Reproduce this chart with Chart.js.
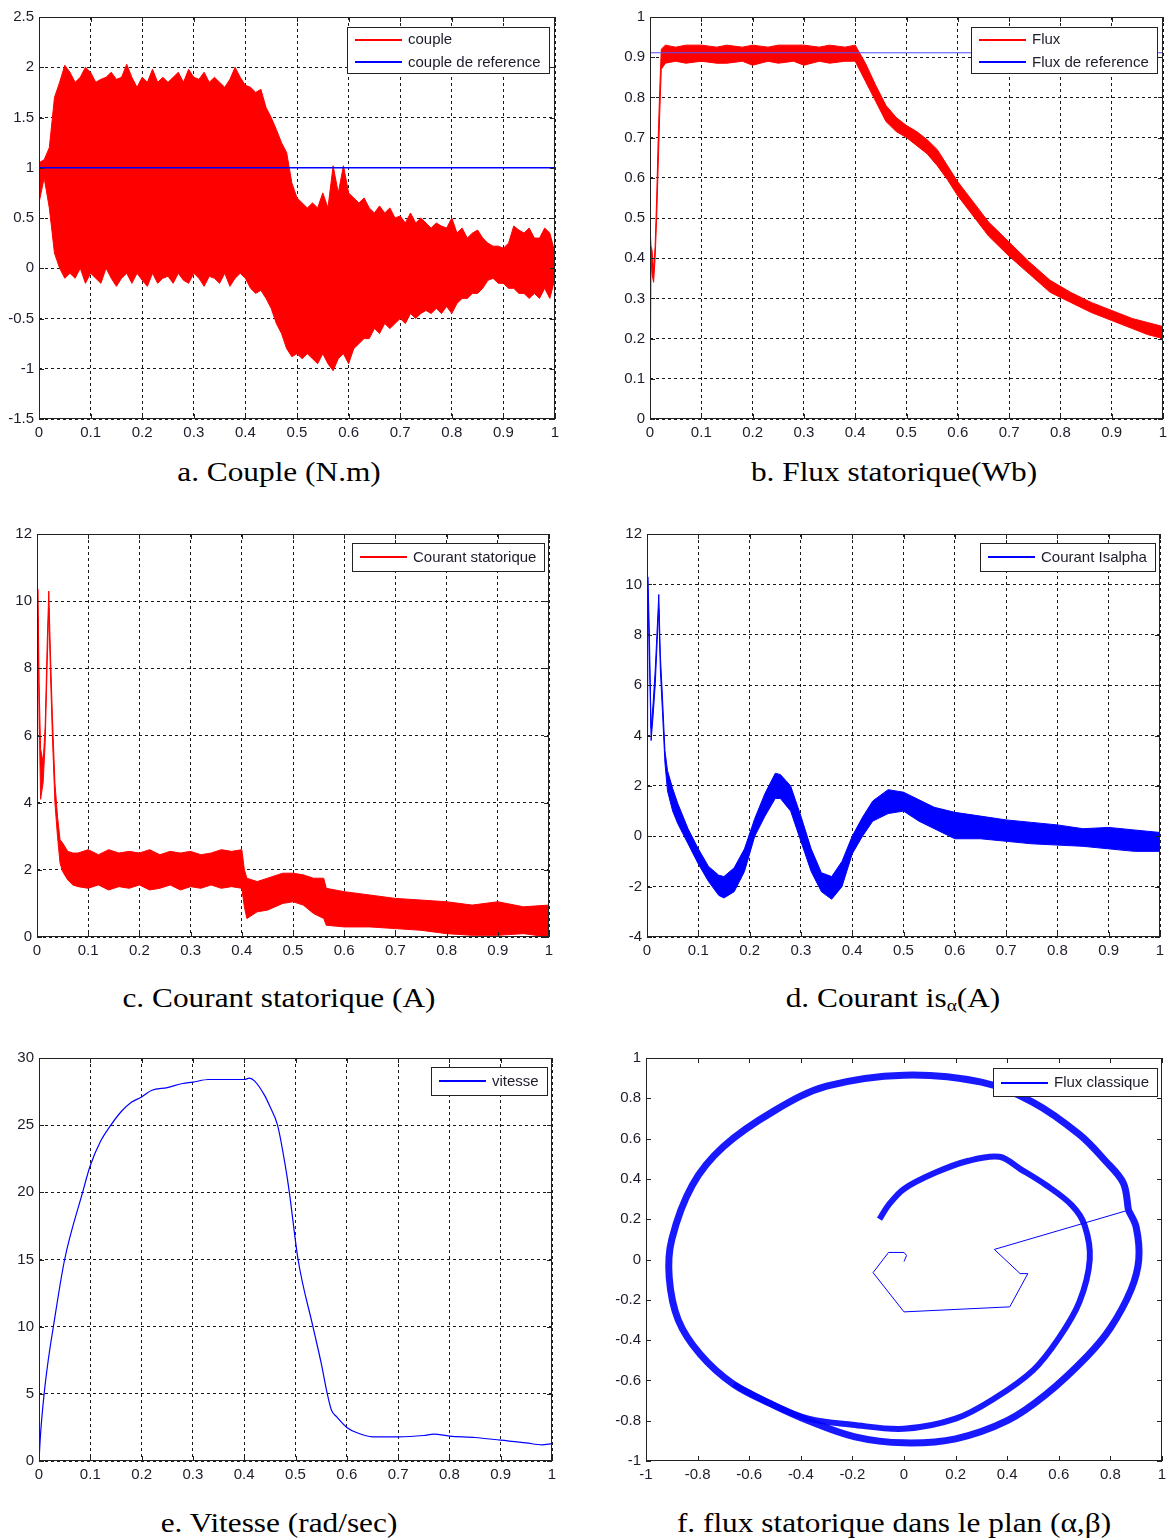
<!DOCTYPE html>
<html>
<head>
<meta charset="utf-8">
<script src="https://cdn.jsdelivr.net/npm/chart.js@4.4.1/dist/chart.umd.min.js"></script>
<style>
    body { margin: 0; background: #fff; width: 1167px; height: 1540px; position: relative; overflow: hidden; }
    canvas { position: absolute; }
    .caption {
        position: absolute; width: 700px; text-align: center; white-space: nowrap;
        font-family: "Liberation Serif", "Times New Roman", serif; font-size: 27px; line-height: 1; color: #000;
        transform: scaleX(1.16); transform-origin: center;
    }
    .caption sub { font-size: 0.62em; vertical-align: -0.25em; }
</style>
</head>
<body>
<div class="caption" style="left:-71px; top:459px;">a. Couple (N.m)</div>
<div class="caption" style="left:544px; top:459px;">b. Flux statorique(Wb)</div>
<div class="caption" style="left:-71px; top:985px;">c. Courant statorique (A)</div>
<div class="caption" style="left:543px; top:985px;">d. Courant is<sub>α</sub>(A)</div>
<div class="caption" style="left:-71px; top:1510px;">e. Vitesse (rad/sec)</div>
<div class="caption" style="left:544px; top:1510px;">f. flux statorique dans le plan (α,β)</div>

<script>
// ---- a. couple : enveloppe haute / basse du couple (pas de 0.01 s), couple de reference
const tA = Array.from({ length: 101 }, (_, i) => i / 100);
const coupleHaut = [1.05, 1.08, 1.2, 1.7, 1.85, 2.02, 1.95, 1.85, 1.9, 2.0,
    1.95, 1.85, 1.88, 1.9, 1.95, 1.88, 1.9, 2.03, 1.9, 1.8,
    1.9, 1.85, 1.98, 1.85, 1.9, 1.85, 1.9, 1.95, 1.85, 1.98,
    1.9, 1.88, 1.95, 1.85, 1.9, 1.85, 1.8, 1.88, 2.0, 1.9,
    1.82, 1.8, 1.75, 1.78, 1.6, 1.5, 1.38, 1.25, 1.15, 0.85,
    0.7, 0.65, 0.6, 0.65, 0.6, 0.75, 0.6, 1.02, 0.75, 1.02,
    0.75, 0.7, 0.65, 0.7, 0.6, 0.55, 0.62, 0.55, 0.6, 0.5,
    0.52, 0.45, 0.55, 0.45, 0.5, 0.45, 0.4, 0.45, 0.42, 0.4,
    0.5, 0.35, 0.4, 0.3, 0.35, 0.38, 0.3, 0.25, 0.22, 0.22,
    0.2, 0.25, 0.42, 0.38, 0.35, 0.4, 0.3, 0.3, 0.4, 0.35,
    0.15];
const coupleBas = [0.65, 0.9, 0.6, 0.15, 0.0, -0.1, -0.05, -0.1, 0.0, -0.15,
    -0.05, -0.1, -0.15, 0.0, -0.1, -0.18, -0.1, -0.05, -0.15, -0.05,
    -0.12, -0.18, -0.05, -0.15, -0.1, -0.08, -0.15, -0.05, -0.12, -0.15,
    -0.05, -0.1, -0.18, -0.08, -0.1, -0.15, -0.05, -0.18, -0.1, -0.05,
    -0.1, -0.2, -0.25, -0.22, -0.3, -0.4, -0.55, -0.65, -0.8, -0.88,
    -0.85, -0.9, -0.85, -0.9, -0.95, -0.85, -0.95, -1.02, -0.9, -0.85,
    -0.95, -0.8, -0.75, -0.7, -0.7, -0.6, -0.65, -0.55, -0.6, -0.55,
    -0.5, -0.55, -0.45, -0.5, -0.45, -0.42, -0.45, -0.4, -0.45, -0.38,
    -0.45, -0.35, -0.3, -0.3, -0.25, -0.25, -0.2, -0.12, -0.1, -0.15,
    -0.15, -0.2, -0.2, -0.25, -0.25, -0.3, -0.25, -0.3, -0.2, -0.3,
    -0.1];
const coupleRef = 1;

// ---- b. flux statorique
const tB = [0, 0.002, 0.004, 0.007, 0.01, 0.013, 0.016, 0.019, 0.022, 0.03, 0.05, 0.07, 0.1, 0.13, 0.15, 0.18,
    0.2, 0.23, 0.25, 0.28, 0.3, 0.33, 0.35, 0.38, 0.4, 0.42, 0.44, 0.46, 0.48, 0.5, 0.52, 0.54, 0.56, 0.58,
    0.6, 0.63, 0.66, 0.7, 0.74, 0.78, 0.82, 0.86, 0.9, 0.94, 0.97, 1.0];
const fluxHaut = [0.48, 0.43, 0.42, 0.37, 0.43, 0.55, 0.7, 0.82, 0.92, 0.93, 0.925, 0.93, 0.93, 0.925, 0.93, 0.925,
    0.93, 0.925, 0.93, 0.93, 0.93, 0.925, 0.93, 0.925, 0.93, 0.885, 0.83, 0.78, 0.75, 0.73, 0.715, 0.695, 0.67, 0.63,
    0.59, 0.54, 0.49, 0.44, 0.39, 0.345, 0.315, 0.29, 0.27, 0.25, 0.24, 0.23];
const fluxBas = [0, 0.40, 0.36, 0.34, 0.40, 0.5, 0.63, 0.76, 0.87, 0.885, 0.89, 0.885, 0.89, 0.885, 0.885, 0.89,
    0.88, 0.89, 0.885, 0.89, 0.88, 0.89, 0.885, 0.89, 0.89, 0.84, 0.79, 0.74, 0.715, 0.7, 0.68, 0.66, 0.63, 0.595,
    0.555, 0.505, 0.455, 0.405, 0.36, 0.315, 0.29, 0.265, 0.245, 0.225, 0.21, 0.2];
const fluxRef = 0.911;

// ---- c. courant statorique
const tC = [0, 0.002, 0.004, 0.007, 0.012, 0.016, 0.02, 0.023, 0.026, 0.03, 0.035, 0.04, 0.045, 0.05, 0.06, 0.07,
    0.08, 0.1, 0.12, 0.14, 0.16, 0.18, 0.2, 0.22, 0.24, 0.26, 0.28, 0.3, 0.32, 0.34, 0.36, 0.38, 0.4, 0.405,
    0.41, 0.43, 0.45, 0.48, 0.5, 0.52, 0.54, 0.56, 0.565, 0.6, 0.65, 0.7, 0.75, 0.8, 0.85, 0.9, 0.95, 1.0];
const courantHaut = [10.3, 10.35, 7.6, 5.6, 5.2, 6.3, 8.8, 10.3, 8.6, 6.6, 4.6, 3.6, 2.9, 2.8, 2.55, 2.5,
    2.5, 2.6, 2.45, 2.6, 2.5, 2.55, 2.5, 2.6, 2.45, 2.55, 2.5, 2.55, 2.45, 2.5, 2.6, 2.55, 2.6, 2.0,
    1.75, 1.65, 1.75, 1.9, 1.9, 1.85, 1.75, 1.75, 1.45, 1.35, 1.25, 1.15, 1.1, 1.05, 0.95, 1.05, 0.9, 0.95];
const courantBas = [0, 9.5, 6.8, 4.1, 4.6, 5.8, 8.2, 9.8, 8.0, 6.0, 4.0, 3.0, 2.2, 1.95, 1.7, 1.55,
    1.5, 1.45, 1.55, 1.4, 1.5, 1.45, 1.55, 1.4, 1.45, 1.55, 1.4, 1.5, 1.45, 1.55, 1.45, 1.5, 1.45, 0.9,
    0.55, 0.75, 0.8, 1.0, 1.05, 0.95, 0.7, 0.55, 0.35, 0.3, 0.3, 0.25, 0.2, 0.1, 0.05, 0.05, 0.1, 0.0];

// ---- d. courant isalpha
const tD = [0, 0.002, 0.005, 0.008, 0.012, 0.016, 0.02, 0.023, 0.026, 0.03, 0.035, 0.04, 0.05, 0.06, 0.08, 0.1,
    0.12, 0.14, 0.15, 0.17, 0.19, 0.21, 0.23, 0.25, 0.26, 0.28, 0.3, 0.32, 0.34, 0.36, 0.38, 0.4, 0.42, 0.44,
    0.47, 0.5, 0.53, 0.56, 0.6, 0.65, 0.7, 0.75, 0.8, 0.85, 0.9, 0.95, 1.0];
const isalphaHaut = [10.3, 10.3, 7.6, 4.3, 5.3, 6.6, 8.3, 9.6, 7.2, 5.6, 3.4, 2.6, 1.9, 1.3, 0.3, -0.5,
    -1.2, -1.55, -1.6, -1.25, -0.5, 0.7, 1.7, 2.5, 2.45, 2.0, 0.8, -0.5, -1.45, -1.6, -1.0, 0.0, 0.75, 1.4,
    1.85, 1.75, 1.45, 1.15, 0.95, 0.8, 0.65, 0.55, 0.45, 0.3, 0.35, 0.25, 0.15];
const isalphaBas = [-2.7, 9.6, 6.8, 3.8, 4.8, 6.0, 7.8, 9.0, 6.6, 5.0, 2.9, 1.8, 1.0, 0.5, -0.3, -1.1,
    -1.8, -2.35, -2.45, -2.2, -1.4, 0.0, 0.8, 1.5, 1.5, 1.0, -0.2, -1.4, -2.2, -2.5, -2.0, -0.7, 0.0, 0.6,
    0.9, 1.0, 0.6, 0.3, -0.1, -0.1, -0.2, -0.3, -0.35, -0.4, -0.5, -0.6, -0.6];

// ---- e. vitesse
const tE = [0, 0.003, 0.01, 0.018, 0.028, 0.05, 0.085, 0.1, 0.12, 0.14, 0.16, 0.18, 0.2, 0.22, 0.25, 0.28,
    0.3, 0.33, 0.36, 0.4, 0.41, 0.42, 0.44, 0.45, 0.465, 0.48, 0.488, 0.505, 0.534, 0.55, 0.562, 0.57, 0.58,
    0.6, 0.62, 0.65, 0.7, 0.75, 0.77, 0.8, 0.85, 0.9, 0.95, 0.98, 1.0];
const vitesse = [0, 2, 5, 7.5, 10, 15, 20, 22, 23.8, 25, 26, 26.7, 27.1, 27.6, 27.8, 28.1,
    28.2, 28.4, 28.4, 28.4, 28.5, 28.3, 27.2, 26.4, 25, 22, 20, 15, 10, 7.3, 5, 3.8, 3.3,
    2.5, 2.1, 1.8, 1.8, 1.9, 2.0, 1.85, 1.75, 1.55, 1.35, 1.2, 1.3];

// ---- f. flux dans le plan (alpha, beta)
const demarrageAlpha = [0, 0.01, 0.0, -0.06, -0.12, 0.0, 0.41, 0.48, 0.45, 0.35, 0.87];
const demarrageBeta = [-0.01, 0.02, 0.035, 0.035, -0.065, -0.26, -0.235, -0.07, -0.07, 0.05, 0.245];
const cercleAlpha = [0.87, 0.85, 0.78, 0.68, 0.5, 0.3, 0.0, -0.3, -0.5, -0.7, -0.82, -0.9, -0.91, -0.875, -0.79,
    -0.66, -0.51, -0.37, -0.19, 0.0, 0.2, 0.4, 0.55, 0.71, 0.8, 0.88, 0.91, 0.9, 0.87];
const cercleBeta = [0.245, 0.38, 0.49, 0.62, 0.78, 0.88, 0.915, 0.86, 0.74, 0.56, 0.37, 0.1, -0.09, -0.3, -0.47,
    -0.62, -0.72, -0.8, -0.88, -0.91, -0.89, -0.8, -0.67, -0.48, -0.34, -0.15, 0.0, 0.16, 0.245];
const spiraleAlpha = [-0.66, -0.51, -0.37, -0.2, 0.0, 0.2, 0.35, 0.5, 0.6, 0.68, 0.72, 0.7, 0.65, 0.55, 0.45,
    0.37, 0.25, 0.12, 0.0, -0.06, -0.095];
const spiraleBeta = [-0.62, -0.72, -0.79, -0.82, -0.84, -0.79, -0.69, -0.55, -0.39, -0.21, 0.0, 0.17, 0.27, 0.37, 0.45,
    0.51, 0.49, 0.43, 0.35, 0.27, 0.2];

const RED = '#ff0000';
const BLUE = '#0000ff';
const FONT = '"Liberation Sans", Arial, sans-serif';
const TICK_COLOR = '#1c1c2a';
const PL = 44, PT = 12, PR = 14, PB = 30;

Chart.defaults.animation = false;
Chart.defaults.font.family = FONT;

// cadre + petites graduations interieures (style matlab)
const frame = {
    id: 'frame',
    afterDatasetsDraw(chart) {
        const { ctx, chartArea: a, scales } = chart;
        ctx.save();
        ctx.strokeStyle = '#222';
        ctx.lineWidth = 1;
        ctx.strokeRect(a.left + 0.5, a.top + 0.5, a.right - a.left - 1, a.bottom - a.top - 1);
        ctx.beginPath();
        scales.x.ticks.forEach(t => {
            const px = Math.round(scales.x.getPixelForValue(t.value)) + 0.5;
            ctx.moveTo(px, a.bottom); ctx.lineTo(px, a.bottom - 5);
            ctx.moveTo(px, a.top); ctx.lineTo(px, a.top + 5);
        });
        scales.y.ticks.forEach(t => {
            const py = Math.round(scales.y.getPixelForValue(t.value)) + 0.5;
            ctx.moveTo(a.left, py); ctx.lineTo(a.left + 5, py);
            ctx.moveTo(a.right, py); ctx.lineTo(a.right - 5, py);
        });
        ctx.stroke();
        ctx.restore();
    }
};

// legende encadree en haut a droite (une instance par graphique)
function boxLegend(items, right, top) {
    return {
        id: 'boxLegend',
        afterDraw(chart) {
            const { ctx, chartArea: a } = chart;
            ctx.save();
            ctx.setLineDash([]);
            ctx.font = '15px ' + FONT;
            const textW = Math.max(...items.map(it => ctx.measureText(it.label).width));
            const w = Math.round(8 + 47 + 6 + textW + 8);
            const h = items.length === 1 ? 28 : 46;
            const x = Math.round(a.right - right - w), y = Math.round(a.top + top);
            ctx.fillStyle = '#ffffff';
            ctx.fillRect(x, y, w, h);
            ctx.strokeStyle = '#222222';
            ctx.lineWidth = 1;
            ctx.strokeRect(x + 0.5, y + 0.5, w, h);
            items.forEach((it, i) => {
                const cy = y + (items.length === 1 ? 14 : 12 + 23 * i);
                const ly = 2 * Math.floor(cy / 2) + 1; // trait de 2 px bien cale
                ctx.strokeStyle = it.color;
                ctx.lineWidth = 2;
                ctx.beginPath();
                ctx.moveTo(x + 8, ly);
                ctx.lineTo(x + 55, ly);
                ctx.stroke();
                ctx.fillStyle = TICK_COLOR;
                ctx.textBaseline = 'middle';
                ctx.fillText(it.label, x + 61, cy + 1);
            });
            ctx.restore();
        }
    };
}

function fmt(v) {
    return String(Math.round(v * 100) / 100);
}

function axis(side, min, max, step, showGrid) {
    return {
        type: 'linear', min: min, max: max,
        ticks: {
            stepSize: step, autoSkip: false, maxRotation: 0, padding: 5,
            color: TICK_COLOR, font: { family: FONT, size: 15 }, callback: v => fmt(v)
        },
        grid: { display: showGrid, color: '#1a1a1a', lineWidth: 1, drawTicks: false },
        border: { display: false, dash: [3, 3] },
        afterFit: s => { if (side === 'x') s.height = PB; else s.width = PL; }
    };
}

function points(xs, ys) {
    return xs.map((x, i) => ({ x: x, y: ys[i] }));
}

function band(xs, hi, lo, color) {
    return [
        { data: points(xs, hi), borderColor: color, borderWidth: 1, pointRadius: 0, fill: false, tension: 0 },
        { data: points(xs, lo), borderColor: color, borderWidth: 1, pointRadius: 0, fill: '-1', backgroundColor: color, tension: 0 }
    ];
}

function makePanel(rect, type, datasets, xAxis, yAxis, legend) {
    const c = document.createElement('canvas');
    const w = rect.R - rect.L + PL + PR, h = rect.B - rect.T + PT + PB;
    c.width = w;
    c.height = h;
    c.style.left = (rect.L - PL) + 'px';
    c.style.top = (rect.T - PT) + 'px';
    c.style.width = w + 'px';
    c.style.height = h + 'px';
    document.body.appendChild(c);
    return new Chart(c.getContext('2d'), {
        type: type,
        data: { datasets: datasets },
        options: {
            responsive: false, devicePixelRatio: 1,
            layout: { padding: { left: 0, top: PT, right: PR, bottom: 0 } },
            plugins: { legend: { display: false }, tooltip: { enabled: false } },
            scales: { x: xAxis, y: yAxis }
        },
        plugins: [frame, legend]
    });
}

// a. Couple
makePanel({ L: 39, T: 15, R: 555, B: 419 }, 'line',
    [{ data: [{ x: 0, y: coupleRef }, { x: 1, y: coupleRef }], borderColor: BLUE, borderWidth: 1.5, pointRadius: 0 }]
        .concat(band(tA, coupleHaut, coupleBas, RED)),
    axis('x', 0, 1, 0.1, true), axis('y', -1.5, 2.5, 0.5, true),
    boxLegend([{ label: 'couple', color: RED }, { label: 'couple de reference', color: BLUE }], 6, 10));

// b. Flux statorique
makePanel({ L: 650, T: 15, R: 1163, B: 419 }, 'line',
    [{ data: [{ x: 0, y: fluxRef }, { x: 1, y: fluxRef }], borderColor: '#5050ff', borderWidth: 1, pointRadius: 0 }]
        .concat(band(tB, fluxHaut, fluxBas, RED)),
    axis('x', 0, 1, 0.1, true), axis('y', 0, 1, 0.1, true),
    boxLegend([{ label: 'Flux', color: RED }, { label: 'Flux de reference', color: BLUE }], 6, 10));

// c. Courant statorique
makePanel({ L: 37, T: 532, R: 549, B: 937 }, 'line',
    band(tC, courantHaut, courantBas, RED),
    axis('x', 0, 1, 0.1, true), axis('y', 0, 12, 2, true),
    boxLegend([{ label: 'Courant statorique', color: RED }], 5, 9));

// d. Courant Isalpha
makePanel({ L: 647, T: 532, R: 1160, B: 937 }, 'line',
    band(tD, isalphaHaut, isalphaBas, BLUE),
    axis('x', 0, 1, 0.1, true), axis('y', -4, 12, 2, true),
    boxLegend([{ label: 'Courant Isalpha', color: BLUE }], 5, 9));

// e. Vitesse
makePanel({ L: 39, T: 1056, R: 552, B: 1461 }, 'line',
    [{ data: points(tE, vitesse), borderColor: BLUE, borderWidth: 1.2, pointRadius: 0, cubicInterpolationMode: 'monotone' }],
    axis('x', 0, 1, 0.1, true), axis('y', 0, 30, 5, true),
    boxLegend([{ label: 'vitesse', color: BLUE }], 5, 9));

// f. Flux dans le plan (alpha, beta)
makePanel({ L: 646, T: 1056, R: 1162, B: 1461 }, 'scatter',
    [
        { data: points(demarrageAlpha, demarrageBeta), showLine: true, borderColor: BLUE, borderWidth: 1, pointRadius: 0 },
        { data: points(cercleAlpha, cercleBeta), showLine: true, borderColor: 'rgba(0,0,255,0.9)', borderWidth: 7, pointRadius: 0, tension: 0.35 },
        { data: points(spiraleAlpha, spiraleBeta), showLine: true, borderColor: 'rgba(0,0,255,0.9)', borderWidth: 6, pointRadius: 0, tension: 0.35 }
    ],
    axis('x', -1, 1, 0.2, false), axis('y', -1, 1, 0.2, false),
    boxLegend([{ label: 'Flux classique', color: BLUE }], 5, 10));
</script>
</body>
</html>
